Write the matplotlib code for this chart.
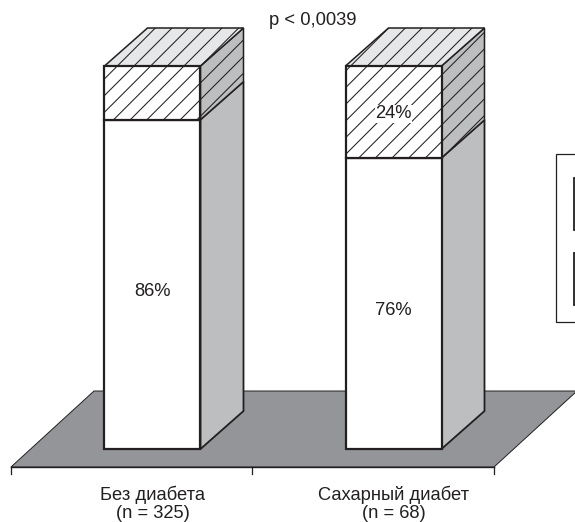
import matplotlib
matplotlib.use("Agg")
import matplotlib.pyplot as plt
from matplotlib.patches import Polygon, Rectangle

plt.rcParams['font.family'] = ['Liberation Sans', 'DejaVu Sans']
plt.rcParams['hatch.linewidth'] = 0.75

categories = ["Без диабета\n(n = 325)", "Сахарный диабет\n(n = 68)"]
lower_values = [86, 76]
upper_values = [14, 24]
lower_labels = ["86%", "76%"]
upper_labels = ["", "24%"]
p_label = "p < 0,0039"

W, H = 575, 522
EDGE = "#231f20"
FLOOR = "#939598"
SIDE = "#bcbec0"
TOP = "#e6e7e8"
FS = 13.2

fig = plt.figure(figsize=(W / 100, H / 100), dpi=100)
ax = fig.add_axes([0, 0, 1, 1])
# scales: 241 px per category, 3.83 px per percent, baseline at y=449 px
sx, sy = 241.0, 3.83
ax.set_xlim(-152.5 / sx, (W - 152.5) / sx)
ax.set_ylim(-(H - 449) / sy, 449 / sy)
ax.axis("off")

half = 48 / sx
dx, dy = 43 / sx, 38 / sy

# floor
fl, fr = -141.5 / sx, 341.5 / sx
fb, ft = -18 / sy, 58 / sy
fskew = 83 / sx
ax.add_patch(Polygon([(fl, fb), (fr, fb), (fr + fskew, ft), (fl + fskew, ft)],
                     closed=True, facecolor=FLOOR, edgecolor=EDGE, lw=0.7, zorder=1))
ax.plot([fl, fr], [fb, fb], color=EDGE, lw=1.0, zorder=2)
for t in (fl, (fl + fr) / 2, fr):
    ax.plot([t, t], [fb, fb - 7 / sy], color=EDGE, lw=0.9, zorder=2)

for i, (lo, up) in enumerate(zip(lower_values, upper_values)):
    l, r = i - half, i + half
    tot = lo + up
    # side faces
    ax.add_patch(Polygon([(r, 0), (r + dx, dy), (r + dx, lo + dy), (r, lo)],
                         facecolor=SIDE, edgecolor=EDGE, lw=1.3, zorder=3))
    ax.add_patch(Polygon([(r, lo), (r + dx, lo + dy), (r + dx, tot + dy), (r, tot)],
                         facecolor=SIDE, edgecolor=EDGE, lw=1.1, hatch="//", zorder=3))
    # top face
    ax.add_patch(Polygon([(l, tot), (r, tot), (r + dx, tot + dy), (l + dx, tot + dy)],
                         facecolor=TOP, edgecolor=EDGE, lw=1.1, hatch="//", zorder=3))

ax.bar(range(2), lower_values, width=2 * half, color="white",
       edgecolor=EDGE, linewidth=1.6, zorder=4)
ax.bar(range(2), upper_values, bottom=lower_values, width=2 * half, color="white",
       edgecolor=EDGE, linewidth=1.6, hatch="//", zorder=4)

for i, (lo, up) in enumerate(zip(lower_values, upper_values)):
    ax.text(i, lo * 0.5 - 7 / sy, lower_labels[i], ha="center", va="center",
            fontsize=FS, color=EDGE, zorder=6)
    if upper_labels[i]:
        ax.text(i, lo + up / 2 - 2 / sy, upper_labels[i], ha="center", va="center",
                fontsize=FS, color=EDGE, zorder=6,
                bbox=dict(facecolor="white", edgecolor="none", pad=0.5))
    ax.text(i, -36.5 / sy, categories[i], ha="center", va="top", fontsize=FS,
            color=EDGE, linespacing=1.12)

ax.text((313 - 152.5) / sx, (449 - 21) / sy, p_label, ha="center", va="center",
        fontsize=FS, color=EDGE)

# legend box, cut off by the figure edge
tf = fig.transFigure
def box(x0, y0, x1, y1, **kw):
    fig.add_artist(Rectangle((x0 / W, 1 - y1 / H), (x1 - x0) / W, (y1 - y0) / H,
                             transform=tf, **kw))
box(555.5, 154, 590, 322, facecolor="white", edgecolor=EDGE, lw=0.9)
box(573.5, 178, 590, 230, facecolor="white", edgecolor=EDGE, lw=1.3)
box(573.5, 253, 590, 305, facecolor="white", edgecolor=EDGE, lw=1.3)

fig.savefig("out.png", dpi=100)
